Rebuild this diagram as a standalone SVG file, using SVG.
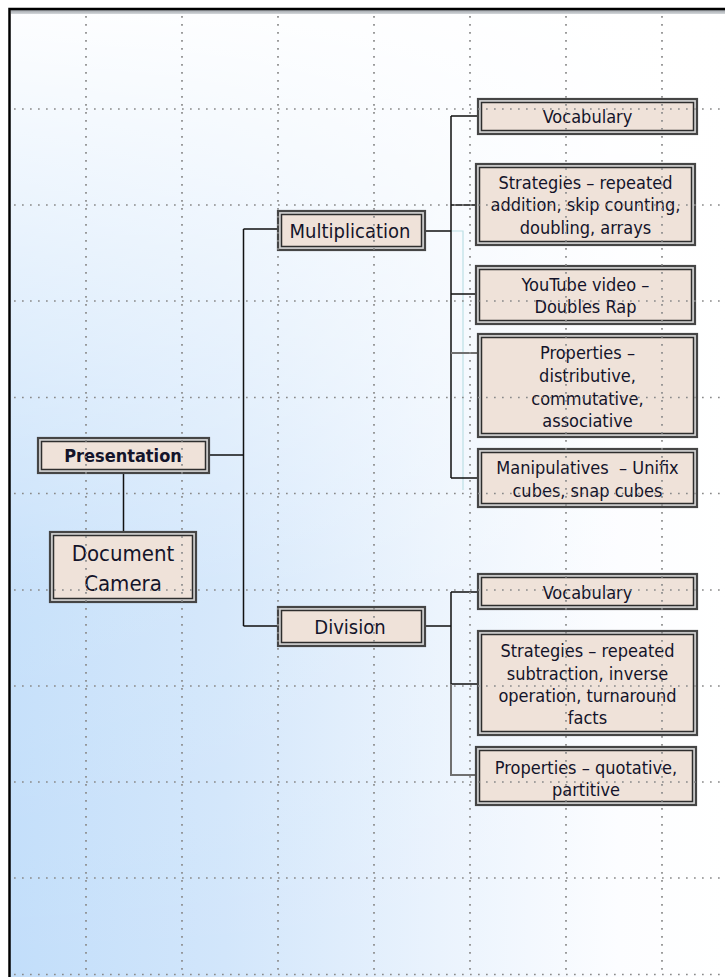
<svg xmlns="http://www.w3.org/2000/svg" width="725" height="977" viewBox="0 0 725 977">
  <defs>
    <linearGradient id="bgH" x1="0" y1="0" x2="1" y2="0">
      <stop offset="0" stop-color="#c2defa"/>
      <stop offset="0.3" stop-color="#d2e6fb"/>
      <stop offset="0.6" stop-color="#eaf3fd"/>
      <stop offset="0.85" stop-color="#fcfdff"/>
      <stop offset="1" stop-color="#ffffff"/>
    </linearGradient>
    <linearGradient id="bgV" x1="0" y1="0" x2="0" y2="1">
      <stop offset="0" stop-color="#ffffff" stop-opacity="0.97"/>
      <stop offset="0.25" stop-color="#ffffff" stop-opacity="0.6"/>
      <stop offset="0.6" stop-color="#ffffff" stop-opacity="0.1"/>
      <stop offset="1" stop-color="#ffffff" stop-opacity="0"/>
    </linearGradient>
    <linearGradient id="frameBand" x1="0" y1="0" x2="0" y2="1">
      <stop offset="0" stop-color="#9ea3a8"/>
      <stop offset="1" stop-color="#d4d7da"/>
    </linearGradient>
  </defs>
  <style>
    .outer { fill: #d4d4d4; stroke: #454545; stroke-width: 2.2; }
    .inner { fill: #efe2d9; stroke: #2e2e2e; stroke-width: 1.5; }
    .lbl { font-family: "DejaVu Sans Condensed", "DejaVu Sans", sans-serif; font-stretch: condensed; fill: #14142a; text-anchor: middle; }
    .s18 { font-size: 18px; }
    .s20 { font-size: 20px; }
    .s22 { font-size: 22px; }
    .bold { font-weight: bold; font-size: 18px; }
    .wire { fill: none; stroke: #111; stroke-width: 1.5; }
    .wire-gray { fill: none; stroke: #707070; stroke-width: 2; }
    .wire-faint { fill: none; stroke: #bcdfe4; stroke-width: 1.2; }
    .grid { fill: none; stroke: #8a8a8a; stroke-width: 1.7; stroke-dasharray: 1.7 6.3; }
  </style>

  <!-- canvas background -->
  <rect x="0" y="0" width="725" height="977" fill="#ffffff"/>
  <rect x="10" y="10" width="715" height="967" fill="url(#bgH)"/>
  <rect x="10" y="10" width="715" height="967" fill="url(#bgV)"/>

  <!-- window frame -->
  <rect x="11" y="10" width="714" height="4" fill="url(#frameBand)"/>
  <path d="M9.5 977 V9 H725" fill="none" stroke="#000" stroke-width="2.5"/>

  <!-- connectors -->
  <g id="connectors">
    <path class="wire" d="M123.5 473 V531"/>
    <path class="wire" d="M209 455 H243.5 M243.5 229 V626 M243.5 229 H278 M243.5 626 H278"/>
    <path class="wire-faint" d="M451 231 H463 V490"/>
    <path class="wire" d="M425 231 H451 M451 116 V478 M451 116 H478 M451 205 H477 M451 294 H477 M451 478 H478"/>
    <path class="wire-gray" d="M451 353 H478"/>
    <path class="wire" d="M425 626 H451 M451 592 V684 M451 592 H478 M451 684 H478"/>
    <path class="wire-gray" d="M451 684 V775 H477"/>
  </g>

  <!-- nodes -->
  <g id="presentation">
    <rect class="outer" x="38" y="438" width="171" height="35"/>
    <rect class="inner" x="41.5" y="441.5" width="164" height="28"/>
    <text class="lbl bold" x="123" y="462">Presentation</text>
  </g>
  <g id="document-camera">
    <rect class="outer" x="50" y="532" width="146" height="70"/>
    <rect class="inner" x="53.5" y="535.5" width="139" height="63"/>
    <text class="lbl s22" x="123" y="561">Document</text>
    <text class="lbl s22" x="123" y="591">Camera</text>
  </g>
  <g id="multiplication">
    <rect class="outer" x="278" y="211" width="147" height="39"/>
    <rect class="inner" x="281.5" y="214.5" width="140" height="32"/>
    <text class="lbl s20" x="350" y="238">Multiplication</text>
  </g>
  <g id="division">
    <rect class="outer" x="278" y="607" width="147" height="39"/>
    <rect class="inner" x="281.5" y="610.5" width="140" height="32"/>
    <text class="lbl s20" x="350" y="634">Division</text>
  </g>

  <g id="m-vocabulary">
    <rect class="outer" x="478" y="99" width="219" height="35"/>
    <rect class="inner" x="481.5" y="102.5" width="212" height="28"/>
    <text class="lbl s18" x="587.5" y="122.5">Vocabulary</text>
  </g>
  <g id="m-strategies">
    <rect class="outer" x="476" y="164" width="219" height="81"/>
    <rect class="inner" x="479.5" y="167.5" width="212" height="74"/>
    <text class="lbl s18" x="585.5" y="188.5">Strategies – repeated</text>
    <text class="lbl s18" x="585.5" y="211">addition, skip counting,</text>
    <text class="lbl s18" x="585.5" y="233.5">doubling, arrays</text>
  </g>
  <g id="m-youtube">
    <rect class="outer" x="476" y="266" width="219" height="58"/>
    <rect class="inner" x="479.5" y="269.5" width="212" height="51"/>
    <text class="lbl s18" x="585.5" y="290.5">YouTube video –</text>
    <text class="lbl s18" x="585.5" y="313">Doubles Rap</text>
  </g>
  <g id="m-properties">
    <rect class="outer" x="478" y="334" width="219" height="103"/>
    <rect class="inner" x="481.5" y="337.5" width="212" height="96"/>
    <text class="lbl s18" x="587.5" y="358.5">Properties –</text>
    <text class="lbl s18" x="587.5" y="381.5">distributive,</text>
    <text class="lbl s18" x="587.5" y="404.5">commutative,</text>
    <text class="lbl s18" x="587.5" y="426.5">associative</text>
  </g>
  <g id="m-manipulatives">
    <rect class="outer" x="478" y="449" width="219" height="58"/>
    <rect class="inner" x="481.5" y="452.5" width="212" height="51"/>
    <text class="lbl s18" x="587.5" y="473.5">Manipulatives&#160; – Unifix</text>
    <text class="lbl s18" x="587.5" y="496.5">cubes, snap cubes</text>
  </g>

  <g id="d-vocabulary">
    <rect class="outer" x="478" y="574" width="219" height="35"/>
    <rect class="inner" x="481.5" y="577.5" width="212" height="28"/>
    <text class="lbl s18" x="587.5" y="598.5">Vocabulary</text>
  </g>
  <g id="d-strategies">
    <rect class="outer" x="478" y="631" width="219" height="104"/>
    <rect class="inner" x="481.5" y="634.5" width="212" height="97"/>
    <text class="lbl s18" x="587.5" y="656.5">Strategies – repeated</text>
    <text class="lbl s18" x="587.5" y="679.5">subtraction, inverse</text>
    <text class="lbl s18" x="587.5" y="701.5">operation, turnaround</text>
    <text class="lbl s18" x="587.5" y="723.5">facts</text>
  </g>
  <g id="d-properties">
    <rect class="outer" x="476" y="747" width="220" height="58"/>
    <rect class="inner" x="479.5" y="750.5" width="213" height="51"/>
    <text class="lbl s18" x="586" y="773.5">Properties – quotative,</text>
    <text class="lbl s18" x="586" y="795.5">partitive</text>
  </g>

  <!-- dotted layout grid, drawn over the page -->
  <g id="grid">
    <path class="grid" d="M86 16 V975 M182 16 V975 M278 16 V975 M374 16 V975 M470 16 V975 M566 16 V975 M662 16 V975"/>
    <path class="grid" d="M14 109 H725 M14 205 H725 M14 301 H725 M14 397.5 H725 M14 493.5 H725 M14 590 H725 M14 686 H725 M14 782 H725 M14 878 H725 M14 974.5 H725"/>
  </g>
</svg>
